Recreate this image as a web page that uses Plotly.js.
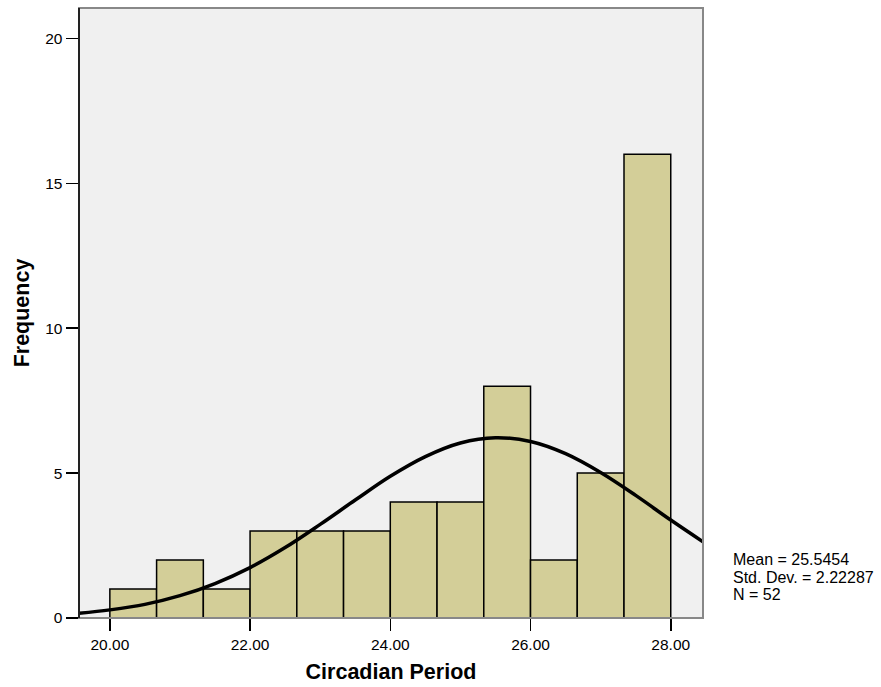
<!DOCTYPE html>
<html>
<head>
<meta charset="utf-8">
<script src="https://cdn.plot.ly/plotly-3.0.1.min.js"></script>
<style>html,body{margin:0;padding:0;background:#fff;}#chart{width:881px;height:687px;}</style>
</head>
<body>
<div id="chart"></div>
<script>
// Histogram bins (start of each bin) and counts
var binStarts = [20.0, 20.6667, 21.3333, 22.0, 22.6667, 23.3333, 24.0, 24.6667, 25.3333, 26.0, 26.6667, 27.3333];
var binWidth = 0.6667;
var counts = [1, 2, 1, 3, 3, 3, 4, 4, 8, 2, 5, 16];

// Normal curve points
var curveX = [19.56, 20.0, 20.5, 21.0, 21.5, 22.0, 22.5, 23.0, 23.5, 24.0, 24.5, 25.0, 25.5, 26.0, 26.5, 27.0, 27.5, 28.0, 28.46];
var curveY = [0.16, 0.28, 0.47, 0.77, 1.19, 1.74, 2.43, 3.23, 4.07, 4.89, 5.57, 6.04, 6.22, 6.09, 5.67, 5.02, 4.23, 3.38, 2.63];

var statsLines = ["Mean = 25.5454", "Std. Dev. = 2.22287", "N = 52"];

var centers = binStarts.map(function(s){ return s + binWidth/2; });

var traces = [
  {
    type: 'bar', x: centers, y: counts, width: binWidth,
    marker: {color: '#d3ce98', line: {color: '#000', width: 1.5}},
    hoverinfo: 'skip'
  },
  {
    type: 'scatter', mode: 'lines', x: curveX, y: curveY,
    line: {color: '#000', width: 3.5, shape: 'spline', smoothing: 1},
    hoverinfo: 'skip'
  }
];

var statY = [0.0967, 0.0672, 0.0393];
var annotations = statsLines.map(function(t, i){
  return {xref: 'paper', yref: 'paper', x: 1.045, y: statY[i], xanchor: 'left', yanchor: 'middle',
          align: 'left', showarrow: false, text: t, font: {size: 16, color: '#000'}};
});

var layout = {
  width: 881, height: 687,
  margin: {l: 79, r: 178, t: 8, b: 69},
  paper_bgcolor: '#fff', plot_bgcolor: '#f0f0f0',
  showlegend: false,
  font: {family: 'Arial, Liberation Sans, sans-serif', color: '#000', size: 15.5},
  xaxis: {
    range: [19.56, 28.46], tickvals: [20, 22, 24, 26, 28], tickformat: '.2f',
    ticks: 'outside', ticklen: 12, tickwidth: 1.5, tickcolor: '#000',
    showgrid: false, zeroline: false, showline: true, linecolor: '#888', linewidth: 1,
    tickfont: {size: 15.5},
    title: {text: '<b>Circadian Period</b>', font: {size: 21.5}, standoff: 12}
  },
  yaxis: {
    range: [0, 21.05], tickvals: [0, 5, 10, 15, 20],
    ticks: 'outside', ticklen: 12, tickwidth: 1.5, tickcolor: '#000',
    showgrid: false, zeroline: false, showline: true, linecolor: '#000', linewidth: 1.5,
    tickfont: {size: 15.5},
    title: {text: '<b>Frequency</b>', font: {size: 21.5}, standoff: 9}
  },
  shapes: [
    {type: 'rect', xref: 'paper', yref: 'paper', x0: 0, x1: 1, y0: 0, y1: 1,
     line: {color: '#888', width: 2}, layer: 'above'},
    {type: 'line', xref: 'paper', yref: 'paper', x0: 0, x1: 0, y0: 0, y1: 1,
     line: {color: '#222', width: 2}, layer: 'above'}
  ],
  annotations: annotations
};

Plotly.newPlot('chart', traces, layout, {displayModeBar: false, staticPlot: true});
</script>
</body>
</html>
